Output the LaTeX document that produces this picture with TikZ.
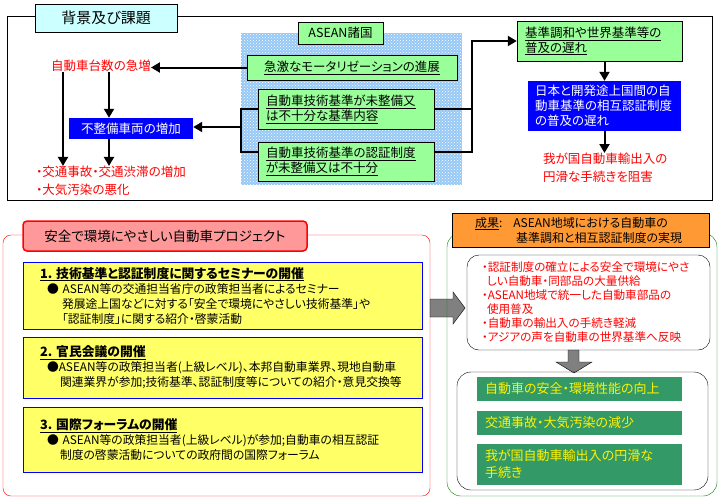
\documentclass[tikz,border=0pt]{standalone}
\usepackage{fontspec}
\setmainfont[RawFeature=+palt]{Noto Sans CJK JP}
\usetikzlibrary{arrows.meta,patterns,positioning}
\definecolor{lcyan}{RGB}{204,255,255}
\definecolor{lgreen}{RGB}{153,255,153}
\definecolor{pblue}{RGB}{0,0,255}
\definecolor{lpink}{RGB}{255,153,153}
\definecolor{lyellow}{RGB}{255,255,102}
\definecolor{orng}{RGB}{255,153,51}
\definecolor{dgreen}{RGB}{51,153,102}
\definecolor{fgreen}{RGB}{0,128,0}
\definecolor{dotblue}{RGB}{150,200,245}
\begin{document}
\begin{tikzpicture}[x=1pt,y=-1pt,font=\fontsize{12.5}{15}\selectfont,
  line/.style={line width=2pt},
  arr/.style={line width=2pt,-{Triangle[length=9pt,width=10pt]}},
  gbox/.style={draw,fill=lgreen,inner xsep=8pt,inner ysep=0pt,align=left},
  bbox/.style={fill=pblue,text=white,inner xsep=7pt,inner ysep=0pt,align=left},
  rtxt/.style={text=red,align=left,inner sep=0pt},
  ybox/.style={draw=pblue,fill=lyellow,minimum width=399pt,text width=365pt,inner xsep=17pt,inner ysep=0pt,align=left,font=\fontsize{11.8}{15}\selectfont},
  dbox/.style={fill=dgreen,text=yellow,minimum width=205pt,text width=189pt,inner xsep=8pt,inner ysep=0pt,align=left,font=\fontsize{13}{17}\selectfont}]
\useasboundingbox (0,0) rectangle (720,501);

% background and issues
\draw (7,16) rectangle (712,200);
\node[draw,fill=lcyan,minimum width=142pt,minimum height=28pt,font=\fontsize{15}{18}\selectfont] (haikei) at (106,18) {背景及び課題};
\node[rtxt] (zouka) at (101,66) {自動車台数の急増};
\node[bbox,minimum width=124pt,minimum height=21pt] (seibi) at (131,128.5) {不整備車両の増加};
\node[rtxt,anchor=west] (jiko) at (36,172) {・交通事故・交通渋滞の増加};
\node[rtxt,anchor=west] (taiki) at (36,190) {・大気汚染の悪化};
\coordinate (la) at (63,0);
\coordinate (lb) at (109,0);
\draw[arr] (zouka.south -| la) -- (jiko.north -| la);
\draw[arr] (zouka.south -| lb) -- (seibi.north -| lb);
\draw[arr] (seibi.south -| lb) -- (jiko.north -| lb);

% ASEAN countries
\fill[dotblue] (241,33) rectangle (462,185);
\fill[pattern=crosshatch dots,pattern color=white] (241,33) rectangle (462,185);
\node[gbox,minimum width=85pt,minimum height=22pt] (asean) at (340.5,33) {ASEAN諸国};
\node[gbox,text width=194pt,align=center,minimum height=25pt] (moto) at (352,67.5) {\underline{急激なモータリゼーションの進展}};
\node[gbox,text width=160pt,minimum height=40pt] (kijun) at (346,109) {\underline{自動車技術基準が未整備又}\\\underline{は不十分な基準内容}};
\node[gbox,text width=160pt,minimum height=39pt] (ninsho) at (346,161.5) {\underline{自動車技術基準の認証制度}\\\underline{が未整備又は不十分}};
\coordinate (lk) at (241,127);
\coordinate (rk) at (472,41);
\draw[arr] (moto.west) -- (moto.west -| zouka.east);
\draw[line] (kijun.west) -| (lk) |- ([yshift=10pt]ninsho.west);
\draw[arr] (lk) -- (lk -| seibi.east);
\draw[line] (kijun.east) -- (kijun.east -| rk);

% delays
\node[gbox,text width=149pt,minimum height=40pt] (okure) at (599.5,41) {\underline{基準調和や世界基準等の}\\\underline{普及の遅れ}};
\node[bbox,text width=139pt,minimum height=50pt] (sogo) at (604.5,106) {日本と開発途上国間の自\\動車基準の相互認証制度\\の普及の遅れ};
\node[rtxt,anchor=north west,font=\fontsize{12.5}{18}\selectfont] (sogai) at (543,153) {我が国自動車輸出入の\\円滑な手続きを阻害};
\draw[arr] ([yshift=10pt]ninsho.east) -| (rk) -- (okure.west);
\draw[arr] (sogo.north |- okure.south) -- (sogo.north);
\draw[arr] (sogo.south) -- (sogo.south |- sogai.north);

% project
\draw[red,rounded corners=8pt] (3,235) rectangle (430,496);
\node[draw=red,line width=1.5pt,fill=lpink,rounded corners=4pt,minimum width=284pt,minimum height=30pt,font=\fontsize{13.5}{16}\selectfont] (anzen) at (165,236) {安全で環境にやさしい自動車プロジェクト};
\node[ybox,minimum height=67pt] (semi) at (222.5,295.5) {{\fontsize{12.8}{15}\selectfont\underline{\textbf{1.~技術基準と認証制度に関するセミナーの開催}}}\\
  \hspace*{7pt}●~ASEAN等の交通担当省庁の政策担当者によるセミナー\\
  \hspace*{22pt}発展途上国などに対する「安全で環境にやさしい技術基準」や\\
  \hspace*{22pt}「認証制度」に関する紹介・啓蒙活動};
\node[ybox,minimum height=61pt] (kanmin) at (222.5,367.5) {{\fontsize{12.8}{15}\selectfont\underline{\textbf{2.~官民会議の開催}}}\\
  \hspace*{7pt}●ASEAN等の政策担当者(上級レベル)、本邦自動車業界、現地自動車\\
  \hspace*{20pt}関連業界が参加;技術基準、認証制度等についての紹介・意見交換等};
\node[ybox,minimum height=65pt] (forum) at (222.5,439.5) {{\fontsize{12.8}{15}\selectfont\underline{\textbf{3.~国際フォーラムの開催}}}\\
  \hspace*{7pt}●~ASEAN等の政策担当者(上級レベル)が参加;自動車の相互認証\\
  \hspace*{20pt}制度の啓蒙活動についての政府間の国際フォーラム};
\draw[fill=gray] (430,299) -- (453,299) -- (453,292) -- (465,308) -- (453,324) -- (453,317) -- (430,317) -- cycle;

% results
\draw[fgreen,rounded corners=14pt] (447,233) rectangle (717,496);
\node[draw,fill=orng,minimum width=257pt,minimum height=34pt,text width=241pt,inner xsep=8pt,inner ysep=0pt,align=left,font=\fontsize{12}{15}\selectfont] (seika) at (580.5,230) {\hspace*{15pt}\underline{成果}:\hspace*{11pt}ASEAN地域における自動車の\\\hspace*{56pt}基準調和と相互認証制度の実現};
\node[draw,fill=white,rounded corners=12pt,minimum width=243pt,minimum height=95pt,text width=213pt,inner xsep=15pt,inner ysep=0pt,align=left,text=red,font=\fontsize{11.6}{14}\selectfont] (kouka) at (588.5,302.5) {・認証制度の確立による安全で環境にやさ\\\hspace*{5pt}しい自動車・同部品の大量供給\\・ASEAN地域で統一した自動車部品の\\\hspace*{5pt}使用普及\\・自動車の輸出入の手続き軽減\\・アジアの声を自動車の世界基準へ反映};
\draw[fill=gray] (568,350) -- (579,350) -- (579,362) -- (592,362) -- (574,373) -- (556,362) -- (568,362) -- cycle;
\draw[rounded corners=14pt] (457,372) rectangle (708,490);
\node[dbox,minimum height=24pt] (seino) at (579.5,389) {自動車の安全・環境性能の向上};
\node[dbox,minimum height=24pt] (gensho) at (579.5,423) {交通事故・大気汚染の減少};
\node[dbox,minimum height=41pt] (tetsuzuki) at (579.5,464.5) {我が国自動車輸出入の円滑な\\手続き};
\end{tikzpicture}
\end{document}
